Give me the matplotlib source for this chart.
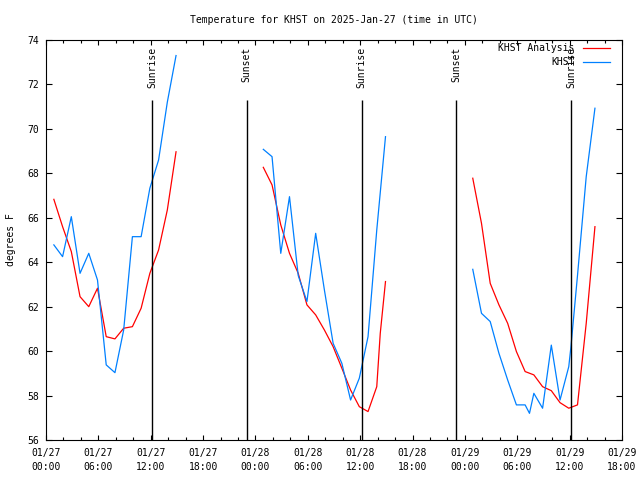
import matplotlib
matplotlib.use("Agg")
import matplotlib.pyplot as plt
import numpy as np

# hours since 2025-01-27 00:00 UTC
an_t1 = [0.9, 1.9, 2.9, 3.9, 4.9, 5.9, 6.9, 7.9, 8.9, 9.9, 10.9, 11.9, 12.9, 13.9, 14.9]
an_v1 = [66.83, 65.6, 64.48, 62.45, 62.0, 62.83, 60.65, 60.55, 61.03, 61.1, 61.93, 63.5, 64.55, 66.35, 68.97]
an_t2 = [24.9, 25.9, 26.9, 27.9, 28.9, 29.9, 30.9, 31.9, 32.9, 33.9, 34.9, 35.9, 36.9, 37.9, 38.3, 38.9]
an_v2 = [68.27, 67.48, 65.68, 64.4, 63.5, 62.08, 61.63, 60.95, 60.2, 59.23, 58.25, 57.5, 57.28, 58.4, 60.8, 63.13]
an_t3 = [48.9, 49.9, 50.9, 51.9, 52.9, 53.9, 54.9, 55.9, 56.9, 57.9, 58.9, 59.9, 60.9, 61.9, 62.9]
an_v3 = [67.78, 65.75, 63.05, 62.08, 61.25, 59.98, 59.08, 58.93, 58.4, 58.22, 57.68, 57.43, 57.58, 61.25, 65.6]

ob_t1 = [0.9, 1.9, 2.9, 3.9, 4.9, 5.9, 6.9, 7.9, 8.9, 9.9, 10.9, 11.9, 12.9, 13.9, 14.9]
ob_v1 = [64.78, 64.25, 66.05, 63.5, 64.4, 63.2, 59.38, 59.03, 60.95, 65.15, 65.15, 67.33, 68.6, 71.2, 73.3]
ob_t2 = [24.9, 25.9, 26.9, 27.9, 28.9, 29.9, 30.9, 31.9, 32.9, 33.9, 34.9, 35.9, 36.9, 37.9, 38.9]
ob_v2 = [69.08, 68.75, 64.4, 66.95, 63.4, 62.23, 65.3, 62.75, 60.35, 59.45, 57.8, 58.78, 60.65, 65.45, 69.65]
ob_t3 = [48.9, 49.9, 50.9, 51.9, 52.9, 53.9, 54.9, 55.4, 55.9, 56.9, 57.9, 58.9, 59.9, 60.15, 60.9, 61.9, 62.9]
ob_v3 = [63.68, 61.7, 61.33, 59.9, 58.7, 57.58, 57.58, 57.2, 58.1, 57.43, 60.27, 57.8, 59.3, 60.2, 63.4, 67.85, 70.93]

sun_t = [12.17, 23.0, 36.17, 47.0, 60.17]
sun_lbl = ["Sunrise", "Sunset", "Sunrise", "Sunset", "Sunrise"]

tick_h = list(range(0, 67, 6))
tick_lbl = ["01/27\n00:00", "01/27\n06:00", "01/27\n12:00", "01/27\n18:00",
            "01/28\n00:00", "01/28\n06:00", "01/28\n12:00", "01/28\n18:00",
            "01/29\n00:00", "01/29\n06:00", "01/29\n12:00", "01/29\n18:00"]

plt.rcParams['font.family'] = 'DejaVu Sans Mono'
plt.rcParams['font.size'] = 7

red = '#ff0000'
blue = '#0080ff'

fig = plt.figure(figsize=(6.4, 4.8), dpi=100)
ax = fig.add_axes([46/640, 40/480, 576/640, 400/480])

for t, v in [(an_t1, an_v1), (an_t2, an_v2), (an_t3, an_v3)]:
    ax.plot(t, v, color=red, lw=0.9)
for t, v in [(ob_t1, ob_v1), (ob_t2, ob_v2), (ob_t3, ob_v3)]:
    ax.plot(t, v, color=blue, lw=0.9)

for t, s in zip(sun_t, sun_lbl):
    ax.vlines(t, 56, 71.3, color='black', lw=1.0)
    ax.text(t, 73.7, s, rotation=90, ha='center', va='top')

ax.set_xlim(0, 66)
ax.set_ylim(56, 74)
ax.set_xticks(tick_h)
ax.set_xticklabels(tick_lbl, linespacing=1.4)
ax.set_xticks(range(0, 67, 2), minor=True)
ax.set_yticks(range(56, 75, 2))
ax.tick_params(axis='both', which='both', direction='in', top=True, right=True, width=0.8)
ax.tick_params(axis='x', which='major', length=3.5, pad=6)
ax.tick_params(axis='x', which='minor', length=2.5)
ax.tick_params(axis='y', length=4.5, pad=5)
for sp in ax.spines.values():
    sp.set_linewidth(0.8)

ax.set_title("Temperature for KHST on 2025-Jan-27 (time in UTC)", fontsize=7, pad=12)
ax.set_ylabel("degrees F", labelpad=8)

# legend drawn like gnuplot: right-aligned text, sample line on the right
ax.text(0.918, 0.98, "KHST Analysis", transform=ax.transAxes, ha='right', va='center')
ax.plot([0.932, 0.979], [0.98, 0.98], transform=ax.transAxes, color=red, lw=0.9)
ax.text(0.918, 0.945, "KHST", transform=ax.transAxes, ha='right', va='center')
ax.plot([0.932, 0.979], [0.945, 0.945], transform=ax.transAxes, color=blue, lw=0.9)

plt.savefig("out.png", dpi=100)
